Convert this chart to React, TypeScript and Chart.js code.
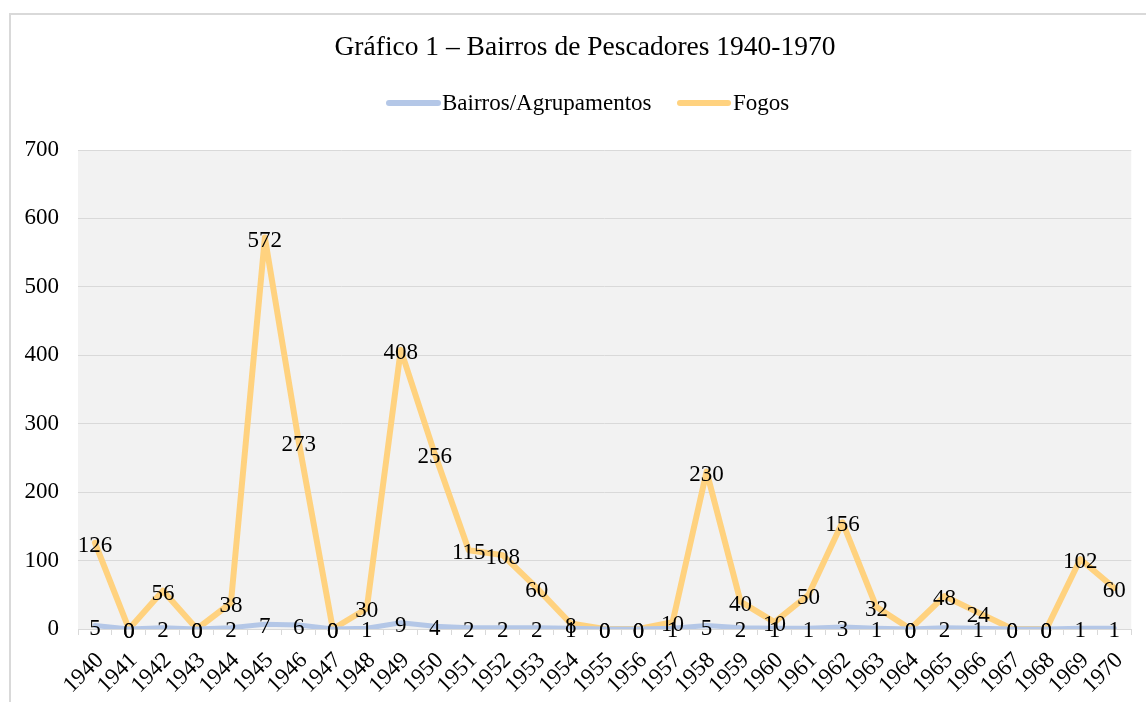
import React, { useEffect, useRef } from "react";
import { Chart, registerables } from "chart.js";

Chart.register(...registerables);

const years = [
  "1940", "1941", "1942", "1943", "1944", "1945", "1946", "1947", "1948", "1949",
  "1950", "1951", "1952", "1953", "1954", "1955", "1956", "1957", "1958", "1959",
  "1960", "1961", "1962", "1963", "1964", "1965", "1966", "1967", "1968", "1969", "1970",
];
const bairros = [5, 0, 2, 0, 2, 7, 6, 0, 1, 9, 4, 2, 2, 2, 1, 0, 0, 1, 5, 2, 1, 1, 3, 1, 0, 2, 1, 0, 0, 1, 1];
const fogos = [126, 0, 56, 0, 38, 572, 273, 0, 30, 408, 256, 115, 108, 60, 8, 0, 0, 10, 230, 40, 10, 50, 156, 32, 0, 48, 24, 0, 0, 102, 60];
const yTicks = [0, 100, 200, 300, 400, 500, 600, 700];

const titleText = "Gráfico 1 – Bairros de Pescadores 1940-1970";
const seriesNames = ["Bairros/Agrupamentos", "Fogos"];
const seriesColors = ["#b4c7e7", "#ffd27f"];

const FONT = "'Liberation Serif', 'Times New Roman', serif";

export default function App() {
  const ref = useRef<HTMLCanvasElement | null>(null);

  useEffect(() => {
    if (!ref.current) return;

    const bgPlugin = {
      id: "bgPlugin",
      beforeDraw(chart: any) {
        const { ctx, chartArea } = chart;
        ctx.save();
        ctx.fillStyle = "#ffffff";
        ctx.fillRect(0, 0, chart.width, chart.height);
        ctx.fillStyle = "#f2f2f2";
        ctx.fillRect(chartArea.left, chartArea.top, chartArea.right - chartArea.left, chartArea.bottom - chartArea.top);
        ctx.restore();
      },
    };

    const labelsPlugin = {
      id: "labelsPlugin",
      afterDatasetsDraw(chart: any) {
        const { ctx } = chart;
        ctx.save();
        ctx.font = `23px ${FONT}`;
        ctx.fillStyle = "#000000";
        ctx.textAlign = "center";
        ctx.textBaseline = "alphabetic";
        chart.data.datasets.forEach((ds: any, di: number) => {
          const meta = chart.getDatasetMeta(di);
          meta.data.forEach((pt: any, i: number) => {
            ctx.fillText(String(ds.data[i]), pt.x, pt.y + 9);
          });
        });
        ctx.restore();
      },
    };

    const headPlugin = {
      id: "headPlugin",
      afterDraw(chart: any) {
        const { ctx } = chart;
        ctx.save();
        ctx.fillStyle = "#000000";
        ctx.font = `27.5px ${FONT}`;
        ctx.textAlign = "center";
        ctx.textBaseline = "middle";
        ctx.fillText(titleText, 585, 48);

        ctx.font = `23px ${FONT}`;
        ctx.textAlign = "left";
        const items = [
          { x1: 389, x2: 438, tx: 442 },
          { x1: 680, x2: 728, tx: 733 },
        ];
        items.forEach((it, i) => {
          ctx.strokeStyle = seriesColors[i];
          ctx.lineWidth = 6;
          ctx.lineCap = "round";
          ctx.beginPath();
          ctx.moveTo(it.x1, 103);
          ctx.lineTo(it.x2, 103);
          ctx.stroke();
          ctx.fillStyle = "#000000";
          ctx.fillText(seriesNames[i], it.tx, 104);
        });
        ctx.restore();
      },
    };

    const chart = new Chart(ref.current, {
      type: "line",
      data: {
        labels: years,
        datasets: [
          {
            label: seriesNames[0],
            data: bairros,
            borderColor: seriesColors[0],
            backgroundColor: seriesColors[0],
            borderWidth: 5,
            pointRadius: 0,
            tension: 0,
            borderCapStyle: "round",
            borderJoinStyle: "round",
          },
          {
            label: seriesNames[1],
            data: fogos,
            borderColor: seriesColors[1],
            backgroundColor: seriesColors[1],
            borderWidth: 6,
            pointRadius: 0,
            tension: 0,
            borderCapStyle: "round",
            borderJoinStyle: "round",
          },
        ],
      },
      options: {
        responsive: false,
        animation: false,
        layout: { padding: { top: 150, right: 13, left: 0, bottom: 0 } },
        plugins: {
          legend: { display: false },
          title: { display: false },
          tooltip: { enabled: false },
        },
        scales: {
          x: {
            offset: true,
            grid: {
              offset: true,
              drawOnChartArea: false,
              color: "#d9d9d9",
              tickLength: 6,
              lineWidth: 1,
            },
            border: { color: "#d9d9d9", width: 1 },
            ticks: {
              color: "#000000",
              font: { family: FONT, size: 23 },
              maxRotation: 45,
              minRotation: 45,
              autoSkip: false,
              padding: 12,
              labelOffset: 5,
            },
            afterFit(s: any) {
              s.height = 73;
            },
          },
          y: {
            min: 0,
            max: 700,
            afterBuildTicks(s: any) {
              s.ticks = yTicks.map((v) => ({ value: v }));
            },
            grid: { color: "#d9d9d9", lineWidth: 1, drawTicks: false },
            border: { display: false },
            ticks: {
              color: "#000000",
              font: { family: FONT, size: 23 },
              padding: 19,
            },
            afterFit(s: any) {
              s.width = 78;
            },
          },
        },
      },
      plugins: [bgPlugin, labelsPlugin, headPlugin],
    });

    return () => chart.destroy();
  }, []);

  return (
    <div style={{ position: "absolute", left: 0, top: 0, width: 1146, height: 702, overflow: "hidden", background: "#fff" }}>
      <canvas ref={ref} width={1146} height={702} style={{ position: "absolute", left: 0, top: 0, width: 1146, height: 702 }} />
      <div
        style={{
          position: "absolute",
          left: 9,
          top: 13,
          width: 1200,
          height: 800,
          borderLeft: "2px solid #d9d9d9",
          borderTop: "2px solid #d9d9d9",
          pointerEvents: "none",
        }}
      />
    </div>
  );
}
